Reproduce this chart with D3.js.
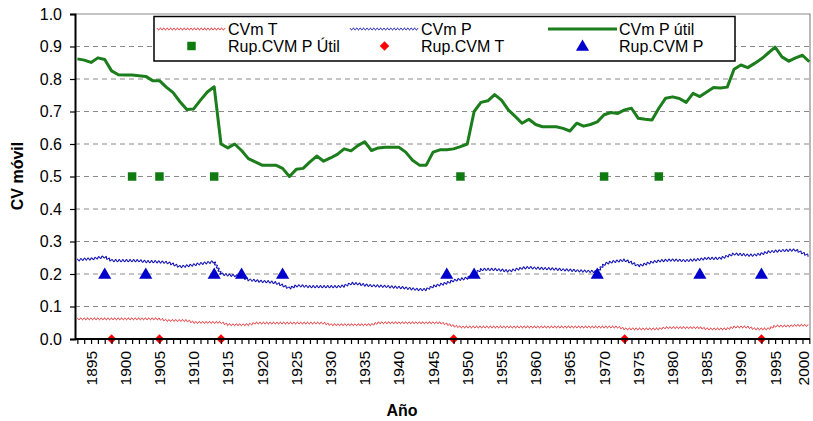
<!DOCTYPE html>
<html><head><meta charset="utf-8">
<script src="https://cdn.jsdelivr.net/npm/d3@7"></script>
<style>
body{margin:0;background:#fff}
svg{display:block}
text{font-family:"Liberation Sans",Arial,sans-serif;fill:#000}
</style>
</head><body>
<svg id="chart" width="813" height="421"></svg>
<script>
// Years of the moving coefficient-of-variation series
const years = d3.range(1893, 2001);

// CVm T: moving CV of temperature
const cvmT = [
  0.062,0.062,0.062,0.062,0.062,0.062,0.062,0.062,0.062,0.062,
  0.062,0.062,0.062,0.057,0.057,0.057,0.057,0.051,0.051,0.051,
  0.051,0.051,0.044,0.044,0.044,0.044,0.049,0.049,0.049,0.049,
  0.049,0.049,0.049,0.049,0.049,0.049,0.049,0.044,0.044,0.044,
  0.044,0.044,0.044,0.044,0.050,0.050,0.050,0.050,0.050,0.050,
  0.050,0.050,0.050,0.050,0.046,0.040,0.037,0.037,0.037,0.037,
  0.037,0.037,0.037,0.037,0.037,0.037,0.037,0.037,0.037,0.037,
  0.037,0.037,0.037,0.037,0.037,0.037,0.037,0.037,0.037,0.037,
  0.031,0.031,0.031,0.031,0.031,0.031,0.035,0.035,0.035,0.035,
  0.035,0.035,0.031,0.031,0.031,0.031,0.037,0.037,0.037,0.031,
  0.031,0.031,0.040,0.040,0.040,0.042,0.042,0.042
];

// CVm P: moving CV of precipitation
const cvmP = [
  0.243,0.246,0.246,0.250,0.253,0.241,0.241,0.241,0.241,0.241,
  0.238,0.238,0.237,0.236,0.230,0.222,0.225,0.228,0.232,0.235,
  0.238,0.200,0.197,0.195,0.192,0.182,0.180,0.177,0.176,0.173,
  0.165,0.156,0.164,0.163,0.161,0.161,0.161,0.161,0.161,0.163,
  0.171,0.170,0.166,0.164,0.163,0.162,0.160,0.159,0.157,0.154,
  0.152,0.152,0.162,0.167,0.172,0.180,0.184,0.187,0.200,0.214,
  0.214,0.214,0.212,0.209,0.213,0.218,0.220,0.218,0.217,0.216,
  0.215,0.213,0.212,0.210,0.209,0.208,0.207,0.230,0.237,0.240,
  0.243,0.235,0.225,0.230,0.237,0.240,0.242,0.243,0.242,0.241,
  0.243,0.245,0.248,0.248,0.248,0.255,0.262,0.260,0.258,0.258,
  0.262,0.268,0.270,0.272,0.273,0.274,0.265,0.255
];

// CVm P útil: moving CV of effective precipitation
const cvmPutil = [
  0.862,0.858,0.851,0.865,0.860,0.825,0.813,0.812,0.812,0.810,
  0.808,0.795,0.795,0.775,0.758,0.730,0.706,0.708,0.735,0.760,
  0.776,0.600,0.588,0.600,0.580,0.555,0.545,0.535,0.535,0.535,
  0.525,0.500,0.522,0.525,0.545,0.563,0.547,0.557,0.568,0.585,
  0.579,0.595,0.607,0.580,0.588,0.590,0.590,0.590,0.575,0.550,
  0.535,0.535,0.575,0.582,0.582,0.585,0.592,0.600,0.700,0.728,
  0.733,0.752,0.735,0.705,0.685,0.664,0.676,0.660,0.653,0.653,
  0.653,0.648,0.640,0.664,0.655,0.660,0.668,0.690,0.697,0.694,
  0.705,0.710,0.679,0.676,0.674,0.710,0.741,0.745,0.740,0.728,
  0.756,0.746,0.760,0.774,0.772,0.775,0.830,0.843,0.835,0.848,
  0.862,0.880,0.898,0.868,0.855,0.865,0.873,0.853
];

// Break years (ruptures) and the level at which each marker set is drawn
const rupPutilYears = [1901,1905,1913,1949,1970,1978];
const rupPutilLevel = 0.5;
const rupTYears = [1898,1905,1914,1948,1973,1993];
const rupTLevel = 0.0;
const rupPYears = [1897,1903,1913,1917,1923,1947,1951,1969,1984,1993];
const rupPLevel = 0.2;

const yTicks = [0,0.1,0.2,0.3,0.4,0.5,0.6,0.7,0.8,0.9,1.0];
const xLabelYears = d3.range(1895, 2001, 5);

const colT = "#e3262b", colP = "#1212b4", colU = "#1b7d1b";
const colSq = "#0f7a0f", colDia = "#ff0000", colTri = "#0000cc";

const svg = d3.select("#chart");
const L = 75, R = 810, T = 14, B = 339;

const x = d3.scaleLinear().domain([1892.8, 2000.1]).range([76, 810]);
const y = d3.scaleLinear().domain([0, 1]).range([B, T]);

// grid
svg.append("g").selectAll("line").data(yTicks.filter(v => v > 0 && v < 1)).join("line")
  .attr("x1", L).attr("x2", R).attr("y1", d => y(d)).attr("y2", d => y(d))
  .attr("stroke", "#8a8a8a").attr("stroke-width", 1).attr("stroke-dasharray", "5,4");

// plot frame top/right
svg.append("path").attr("d", `M${L},${T}H${R}V${B}`).attr("fill","none")
  .attr("stroke","#8a8a8a").attr("stroke-width",1.2);

// wavy rendering of a thin line
function wavy(d, amp, step) {
  const tmp = svg.append("path").attr("d", d).attr("fill", "none");
  const node = tmp.node();
  const len = node.getTotalLength();
  const pts = [];
  let i = 0;
  for (let s = 0; s <= len; s += step, i++) {
    const p = node.getPointAtLength(s);
    const q = node.getPointAtLength(Math.min(len, s + 0.6));
    const r = node.getPointAtLength(Math.max(0, s - 0.6));
    const dx = q.x - r.x, dy = q.y - r.y, n = Math.hypot(dx, dy) || 1;
    const sg = i % 2 ? 1 : -1;
    pts.push([p.x - dy / n * amp * sg, p.y + dx / n * amp * sg]);
  }
  tmp.remove();
  return d3.line().curve(d3.curveCatmullRom)(pts);
}

const line = d3.line().x((d, i) => x(years[i])).y(d => y(d));

svg.append("path").attr("d", wavy(line(cvmT), 1.0, 1.7)).attr("fill","none")
  .attr("stroke", colT).attr("stroke-width", 1);
svg.append("path").attr("d", wavy(line(cvmP), 1.1, 1.8)).attr("fill","none")
  .attr("stroke", colP).attr("stroke-width", 1.1);
svg.append("path").attr("d", line(cvmPutil)).attr("fill","none")
  .attr("stroke", colU).attr("stroke-width", 3).attr("stroke-linejoin","round");

// markers
const sym = (type, size) => d3.symbol().type(type).size(size)();
svg.append("g").selectAll("path").data(rupPutilYears).join("path")
  .attr("transform", d => `translate(${x(d)},${y(rupPutilLevel)})`)
  .attr("d", sym(d3.symbolSquare, 72)).attr("fill", colSq);
svg.append("g").selectAll("path").data(rupTYears).join("path")
  .attr("transform", d => `translate(${x(d)},${y(rupTLevel)}) rotate(45)`)
  .attr("d", sym(d3.symbolSquare, 45)).attr("fill", colDia);
svg.append("g").selectAll("path").data(rupPYears).join("path")
  .attr("transform", d => `translate(${x(d)},${y(rupPLevel) + 1})`)
  .attr("d", sym(d3.symbolTriangle, 75)).attr("fill", colTri);

// axes
const yAxis = svg.append("g").attr("transform", `translate(${L},0)`)
  .call(d3.axisLeft(y).tickValues(yTicks).tickFormat(d3.format(".1f")).tickSize(5).tickPadding(8));
yAxis.select(".domain").attr("stroke", "#000").attr("stroke-width", 2);
yAxis.selectAll(".tick line").attr("stroke", "#000").attr("stroke-width", 1.2);
yAxis.selectAll("text").attr("font-size", 16).attr("font-family", "Liberation Sans, Arial, sans-serif").attr("fill","#111");

const xAxis = svg.append("g").attr("transform", `translate(0,${B})`)
  .call(d3.axisBottom(x).tickValues(years).tickSize(5)
    .tickFormat(d => xLabelYears.includes(d) ? String(d) : "").tickSizeOuter(0));
xAxis.select(".domain").attr("stroke", "#000").attr("stroke-width", 2).attr("d", `M${L},0H${R}`);
xAxis.selectAll(".tick line").attr("stroke", "#000").attr("stroke-width", 1.2);
// keep the rotated labels inside the right edge of the canvas
xAxis.selectAll("text")
  .attr("font-size", 15.5).attr("font-family", "Liberation Sans, Arial, sans-serif").attr("fill","#111")
  .attr("text-anchor", "end").attr("dy", null).attr("y", 0)
  .attr("transform", d => `translate(${Math.min(5, 808.5 - x(d))},12) rotate(-90)`);

// axis titles
svg.append("text").attr("transform", "translate(23,176) rotate(-90)")
  .attr("text-anchor","middle").attr("font-size", 16).attr("font-weight","bold").text("CV móvil");
svg.append("text").attr("x", 402).attr("y", 416)
  .attr("text-anchor","middle").attr("font-size", 16).attr("font-weight","bold").text("Año");

// legend
const lg = svg.append("g");
lg.append("rect").attr("x", 154).attr("y", 16.5).attr("width", 581).attr("height", 44.5)
  .attr("fill", "#fff").attr("stroke", "#000").attr("stroke-width", 1.5);
const legendItems = [
  {label:"CVm T", kind:"wavy", color:colT, x:157, row:0},
  {label:"CVm P", kind:"wavy", color:colP, x:350, row:0},
  {label:"CVm P útil", kind:"solid", color:colU, x:548, row:0},
  {label:"Rup.CVM P Útil", kind:"square", color:colSq, x:157, row:1},
  {label:"Rup.CVM T", kind:"diamond", color:colDia, x:350, row:1},
  {label:"Rup.CVM P", kind:"triangle", color:colTri, x:548, row:1}
];
legendItems.forEach(it => {
  const cy = it.row ? 46 : 29;
  const x0 = it.x, x1 = it.x + 69;
  if (it.kind === "wavy") {
    lg.append("path").attr("d", wavy(`M${x0},${cy}H${x1}`, 1.0, 1.7)).attr("fill","none")
      .attr("stroke", it.color).attr("stroke-width", 1);
  } else if (it.kind === "solid") {
    lg.append("line").attr("x1", x0).attr("x2", x1).attr("y1", cy).attr("y2", cy)
      .attr("stroke", it.color).attr("stroke-width", 3);
  } else {
    const cx = (x0 + x1) / 2;
    const tr = it.kind === "diamond" ? `translate(${cx},${cy}) rotate(45)` : `translate(${cx},${cy + (it.kind==="triangle"?1:0)})`;
    const d = it.kind === "square" ? sym(d3.symbolSquare, 72)
      : it.kind === "diamond" ? sym(d3.symbolSquare, 45) : sym(d3.symbolTriangle, 75);
    lg.append("path").attr("transform", tr).attr("d", d).attr("fill", it.color);
  }
  lg.append("text").attr("x", x1 + 2).attr("y", cy + 6).attr("font-size", 16).text(it.label);
});
</script>
</body></html>
